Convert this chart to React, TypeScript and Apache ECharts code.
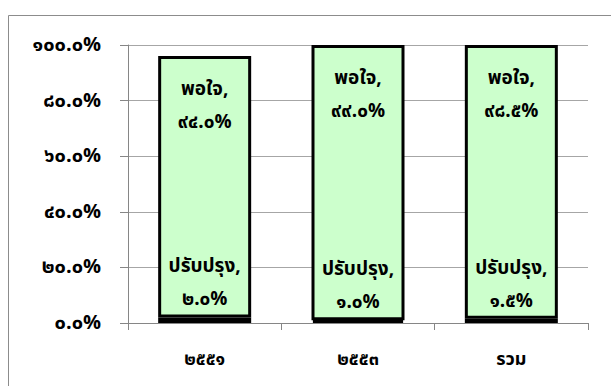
import React, { useEffect, useRef } from "react";
import * as echarts from "echarts";

const categories = ["๒๕๕๑", "๒๕๕๓", "รวม"];
const improveName = "ปรับปรุง";
const satisfiedName = "พอใจ";
const improveValues = [2.0, 1.0, 1.5];
const satisfiedValues = [94.0, 99.0, 98.5];
const yTicks = [0, 20, 40, 60, 80, 100];

const thaiDigits = ["๐", "๑", "๒", "๓", "๔", "๕", "๖", "๗", "๘", "๙"];
const toThai = (s: string) => s.replace(/[0-9]/g, (d) => thaiDigits[Number(d)]);

const FONT = "'Noto Sans Thai', 'Noto Sans', 'DejaVu Sans', sans-serif";

export default function App() {
  const ref = useRef<HTMLDivElement>(null);
  useEffect(() => {
    document.body.style.margin = "0";
    const chart = echarts.init(ref.current!, null, { renderer: "svg" });
    const barStyle = { color: "#CCFFCC", borderColor: "#000000", borderWidth: 3 };
    chart.setOption({
      animation: false,
      backgroundColor: "#ffffff",
      graphic: [
        {
          type: "rect",
          shape: { x: 8.5, y: 15.5, width: 700, height: 500 },
          style: { fill: "none", stroke: "#8c8c8c", lineWidth: 1 },
          silent: true,
        },
      ],
      grid: { left: 128, right: 23, top: 45, bottom: 63 },
      xAxis: {
        type: "category",
        data: categories,
        axisLine: { lineStyle: { color: "#868686", width: 1 } },
        axisTick: { show: true, length: 7, lineStyle: { color: "#868686" } },
        axisLabel: {
          margin: 27,
          color: "#000",
          fontSize: 18,
          fontWeight: "bold",
          fontFamily: FONT,
        },
      },
      yAxis: {
        type: "value",
        min: 0,
        max: yTicks[yTicks.length - 1],
        interval: 20,
        axisLine: { show: true, lineStyle: { color: "#868686", width: 1 } },
        axisTick: { show: true, length: 8, lineStyle: { color: "#868686" } },
        splitLine: { show: true, lineStyle: { color: "#a6a6a6", width: 1 } },
        axisLabel: {
          margin: 27,
          color: "#000",
          fontSize: 20,
          fontWeight: "bold",
          fontFamily: FONT,
          formatter: (v: number) => toThai(v.toFixed(1)) + "%",
        },
      },
      series: [
        {
          name: improveName,
          type: "bar",
          stack: "total",
          barWidth: 93,
          data: improveValues,
          itemStyle: barStyle,
          label: {
            show: true,
            position: "top",
            distance: 1,
            color: "#000",
            fontSize: 19,
            fontWeight: "bold",
            fontFamily: FONT,
            lineHeight: 33,
            formatter: (p: any) => improveName + ",\n" + toThai(Number(p.value).toFixed(1)) + "%",
          },
        },
        {
          name: satisfiedName,
          type: "bar",
          stack: "total",
          barWidth: 93,
          data: satisfiedValues,
          itemStyle: barStyle,
          label: {
            show: true,
            position: "insideTop",
            distance: 17,
            color: "#000",
            fontSize: 19,
            fontWeight: "bold",
            fontFamily: FONT,
            lineHeight: 33,
            formatter: (p: any) => satisfiedName + ",\n" + toThai(Number(p.value).toFixed(1)) + "%",
          },
        },
      ],
    });
    return () => chart.dispose();
  }, []);
  return <div ref={ref} style={{ width: 611, height: 386 }} />;
}
